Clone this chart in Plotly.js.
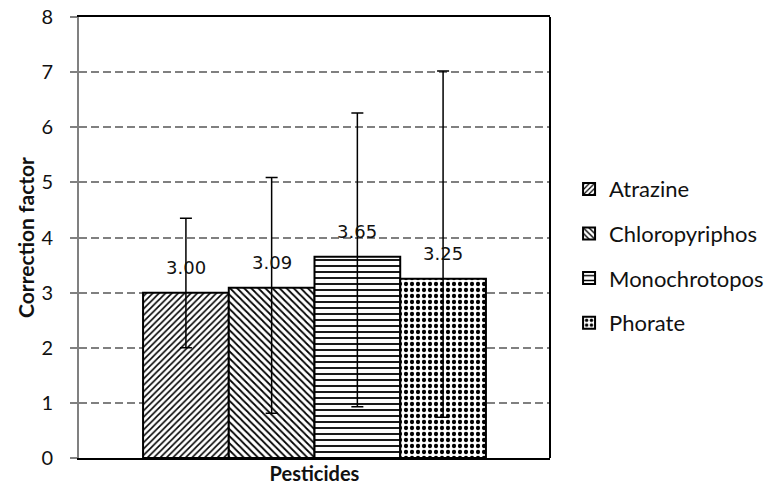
<!DOCTYPE html>
<html>
<head>
<meta charset="utf-8">
<script src="https://cdn.plot.ly/plotly-3.0.1.min.js"></script>
<style>html,body{margin:0;padding:0;background:#fff;}#chart{width:769px;height:485px;}</style>
</head>
<body>
<div id="chart"></div>
<script>
var category = ['Pesticides'];
var pesticides = ['Atrazine', 'Chloropyriphos', 'Monochrotopos', 'Phorate'];
var values = [3.00, 3.09, 3.65, 3.25];
var labels = ['3.00', '3.09', '3.65', '3.25'];
var upper = [4.35, 5.09, 6.26, 7.02];
var lower = [2.00, 0.81, 0.93, 0.74];
var yTicks = [0, 1, 2, 3, 4, 5, 6, 7, 8];

var patterns = [
  {shape: '/', size: 4.5, solidity: 0.35},
  {shape: '\\', size: 5, solidity: 0.35},
  {shape: '-', size: 6, solidity: 0.3},
  {shape: '.', size: 6, solidity: 0.4}
];

var bargap = 0.272;
var groupWidth = 1 - bargap;
var barW = groupWidth / pesticides.length;

var traces = pesticides.map(function (name, i) {
  return {
    type: 'bar',
    name: name,
    x: category,
    y: [values[i]],
    legendgroup: name,
    marker: {
      color: 'white',
      line: {color: 'black', width: 2},
      pattern: {
        shape: patterns[i].shape,
        size: patterns[i].size,
        solidity: patterns[i].solidity,
        fgcolor: 'black',
        bgcolor: 'white',
        fillmode: 'replace'
      }
    },
    error_y: {
      type: 'data',
      symmetric: false,
      array: [upper[i] - values[i]],
      arrayminus: [values[i] - lower[i]],
      color: 'black',
      thickness: 1.5,
      width: 6
    },
    hoverinfo: 'skip'
  };
});

var annotations = pesticides.map(function (name, i) {
  return {
    xref: 'x', yref: 'y',
    x: -groupWidth / 2 + barW * (i + 0.5),
    y: values[i],
    yshift: 25,
    text: labels[i],
    showarrow: false,
    xanchor: 'center', yanchor: 'middle',
    font: {family: 'DejaVu Sans', size: 18, color: '#111'}
  };
});

var layout = {
  width: 769, height: 485,
  margin: {l: 79, r: 219, t: 17, b: 27, autoexpand: false},
  paper_bgcolor: 'white', plot_bgcolor: 'white',
  barmode: 'group',
  bargap: bargap,
  bargroupgap: 0,
  showlegend: true,
  legend: {
    xref: 'container', yref: 'container',
    x: 0.740, xanchor: 'left', y: 0.472, yanchor: 'middle',
    traceorder: 'grouped', tracegroupgap: 13,
    font: {family: 'Lato', size: 22, color: '#111'},
    bgcolor: 'rgba(0,0,0,0)'
  },
  xaxis: {
    type: 'category',
    showticklabels: false,
    ticks: '',
    showline: true, mirror: true, linecolor: 'black', linewidth: 2,
    showgrid: false, zeroline: false,
    title: {text: '<b>Pesticides</b>', standoff: 9, font: {family: 'Lato', size: 20, color: '#111'}},
    automargin: false
  },
  yaxis: {
    range: [0, 8],
    tickvals: yTicks,
    ticktext: yTicks.map(String),
    ticks: 'outside', ticklen: 7, tickwidth: 2, tickcolor: '#808080',
    ticklabelstandoff: 13,
    tickfont: {family: 'Lato', size: 20, color: '#111'},
    showline: true, linecolor: '#808080', linewidth: 2,
    showgrid: true, gridcolor: '#808080', gridwidth: 2, griddash: '8px,4px',
    zeroline: false,
    title: {text: '<b>Correction factor</b>', standoff: 1, font: {family: 'Lato', size: 21, color: '#111'}},
    automargin: false
  },
  shapes: [{
    type: 'line', xref: 'paper', yref: 'paper',
    x0: 1, x1: 1, y0: 0, y1: 1,
    line: {color: 'black', width: 2}
  }],
  annotations: annotations
};

Plotly.newPlot('chart', traces, layout, {displayModeBar: false, staticPlot: true});
</script>
</body>
</html>
